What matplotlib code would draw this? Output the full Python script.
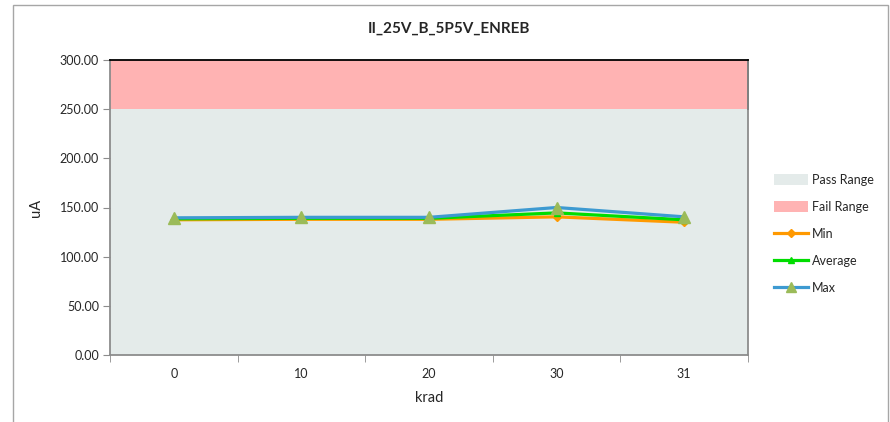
import numpy as np
import matplotlib
matplotlib.use("Agg")
import matplotlib.pyplot as plt
from matplotlib.patches import Rectangle, Patch
from matplotlib.lines import Line2D

# data
krad = ["0", "10", "20", "30", "31"]
min_vals = [137.5, 138.0, 138.0, 140.5, 135.0]
avg_vals = [138.5, 139.0, 139.0, 144.5, 137.5]
max_vals = [139.5, 140.0, 140.0, 150.0, 140.5]
pass_max = 250.0
fail_max = 300.0
y_ticks = [0, 50, 100, 150, 200, 250, 300]

matplotlib.rc('font', family=['Lato', 'DejaVu Sans'])
axis_gray = '#8C8C8C'
text_col = '#262626'

fig = plt.figure(figsize=(8.9, 4.22), dpi=100)
W, H = 890.0, 422.0

# outer chart border
fig.patches.append(Rectangle((13 / W, -0.1), 875 / W, 1.1 - 5 / H, transform=fig.transFigure,
                             fill=False, edgecolor='#A6A6A6', linewidth=1.0))

ax = fig.add_axes([110 / W, 1 - 355 / H, 638 / W, 295 / H])
x = np.arange(len(krad))
xlim = (-0.5, len(krad) - 0.5)

# pass / fail ranges
ax.fill_between(xlim, 0, pass_max, color='#E4EBEA', linewidth=0, zorder=1)
ax.fill_between(xlim, pass_max, fail_max, color='#FFB3B3', linewidth=0, zorder=1)
ax.plot([xlim[1], xlim[1]], [pass_max, fail_max], color='black', linewidth=1.3, zorder=2, clip_on=False)

ax.plot(x, min_vals, '-', color='#FF9900', linewidth=2.3, marker='D', markersize=4,
        markerfacecolor='#FF9900', markeredgecolor='#FF9900', zorder=3, label='Min')
ax.plot(x, avg_vals, '-', color='#00DD00', linewidth=2.3, marker='^', markersize=5,
        markerfacecolor='#00DD00', markeredgecolor='#00DD00', zorder=4, label='Average')
ax.plot(x, max_vals, '-', color='#3D9AD1', linewidth=2.3, marker='^', markersize=9,
        markerfacecolor='#9BBB59', markeredgecolor='#9BBB59', zorder=5, label='Max')

ax.set_xlim(*xlim)
ax.set_ylim(0, fail_max)
ax.set_yticks(y_ticks)
ax.set_yticklabels(["%.2f" % v for v in y_ticks])
ax.set_xticks(x)
ax.set_xticklabels(krad)
ax.set_xticks(np.arange(len(krad) + 1) - 0.5, minor=True)
ax.tick_params(axis='x', which='major', length=0, pad=9, labelsize=9, labelcolor=text_col)
ax.tick_params(axis='x', which='minor', length=5, direction='out', color=axis_gray)
ax.tick_params(axis='y', which='major', length=5, direction='out', color=axis_gray,
               pad=3, labelsize=9, labelcolor=text_col)

for side in ['left', 'bottom', 'right']:
    ax.spines[side].set_color(axis_gray)
    ax.spines[side].set_linewidth(1.3)
ax.spines['top'].set_color('black')
ax.spines['top'].set_linewidth(1.3)

ax.set_ylabel('uA', fontsize=10.5, color=text_col, labelpad=12)
ax.set_xlabel('krad', fontsize=10.5, color=text_col, labelpad=8)
fig.text(449 / W, 1 - 29 / H, 'II_25V_B_5P5V_ENREB', ha='center', va='center',
         fontsize=11, fontweight='bold', color=text_col)

handles = [Patch(facecolor='#E4EBEA', edgecolor='none'),
           Patch(facecolor='#FFB3B3', edgecolor='none'),
           Line2D([], [], color='#FF9900', linewidth=2.3, marker='D', markersize=4),
           Line2D([], [], color='#00DD00', linewidth=2.3, marker='^', markersize=5),
           Line2D([], [], color='#3D9AD1', linewidth=2.3, marker='^', markersize=7,
                  markerfacecolor='#9BBB59', markeredgecolor='#9BBB59')]
labels = ['Pass Range', 'Fail Range', 'Min', 'Average', 'Max']
leg = fig.legend(handles, labels, loc='center left', bbox_to_anchor=(768 / W, 1 - 234 / H),
                 frameon=False, fontsize=9, labelspacing=1.2, handlelength=2.7,
                 handleheight=0.9, handletextpad=0.3, borderpad=0)
for t in leg.get_texts():
    t.set_color(text_col)

fig.savefig('out.png', dpi=100)
